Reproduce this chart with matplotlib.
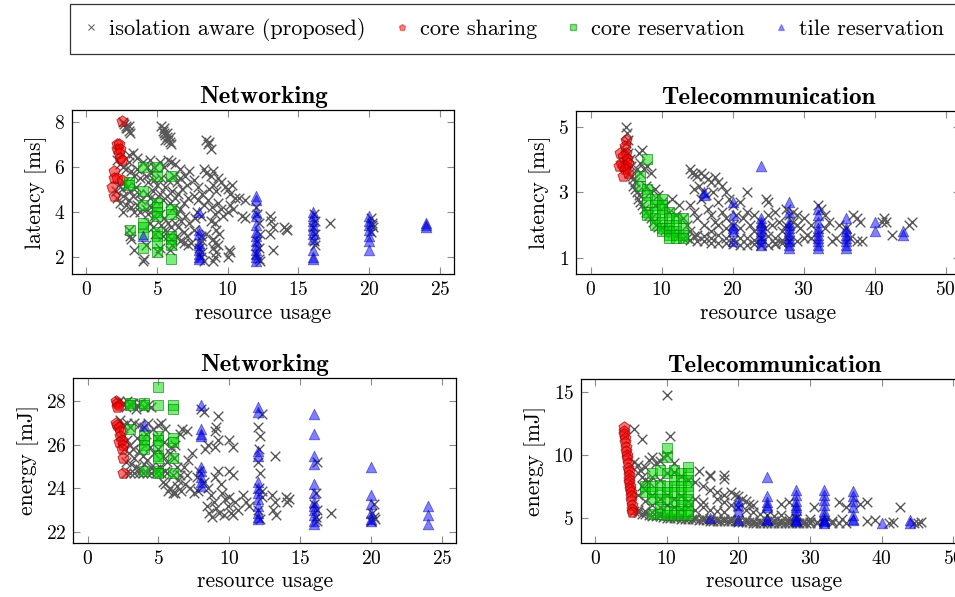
import matplotlib
matplotlib.use("Agg")
import matplotlib.pyplot as plt
from matplotlib.lines import Line2D

plt.rcParams['font.family'] = ['cmr10', 'DejaVu Serif']
plt.rcParams['axes.formatter.use_mathtext'] = True
plt.rcParams['mathtext.fontset'] = 'cm'

# ---- Networking, latency [ms] ----
net_lat_iso = [
    (2.6, 8.0), (2.7, 7.9), (2.8, 7.8), (2.9, 7.7), (3.0, 7.6), (3.1, 7.5), (2.8, 7.7), (3.0, 7.8),
    (5.3, 7.8), (5.4, 7.6), (5.5, 7.5), (5.6, 7.4), (5.7, 7.3), (5.8, 7.2), (5.9, 7.1), (6.0, 7.0),
    (5.5, 7.7), (5.7, 7.5), (5.6, 7.2), (5.9, 7.3), (8.5, 7.2), (8.6, 7.0), (8.8, 6.8), (8.7, 7.1),
    (3.0, 6.5), (3.3, 6.6), (3.6, 6.4), (4.0, 6.2), (4.3, 6.0), (4.5, 6.3), (4.8, 6.0), (5.2, 6.2),
    (5.5, 6.0), (5.8, 6.3), (6.0, 6.2), (6.3, 6.1), (6.6, 5.9), (7.0, 5.6), (7.3, 5.8), (7.6, 5.4),
    (7.9, 5.1), (8.3, 5.9), (8.5, 5.7), (8.8, 5.6), (9.0, 5.8), (9.3, 5.5), (9.5, 5.3), (9.8, 5.1),
    (10.0, 5.0), (10.2, 4.8), (10.5, 4.6), (10.8, 4.6), (11.2, 4.5), (10.3, 5.2), (9.0, 5.2), (8.7, 5.0),
    (9.2, 4.9), (2.2, 6.3), (2.4, 6.1), (2.6, 6.0), (2.8, 5.9), (3.0, 6.2), (3.2, 5.8), (3.4, 5.6),
    (3.6, 5.9), (3.8, 5.5), (2.3, 5.2), (2.5, 5.0), (2.7, 5.3), (2.9, 5.1), (3.1, 4.9), (3.3, 4.7),
    (3.5, 5.1), (3.7, 4.8), (3.9, 4.5), (2.2, 4.6), (2.4, 4.4), (2.6, 4.7), (2.8, 4.3), (3.0, 4.5),
    (3.2, 4.2), (3.4, 4.0), (3.6, 4.3), (3.8, 4.0), (2.6, 4.0), (2.1, 4.9), (4.2, 5.6), (4.4, 5.3),
    (4.6, 5.7), (4.8, 5.4), (5.0, 5.2), (5.3, 5.5), (5.6, 5.1), (5.8, 5.4), (4.3, 4.8), (4.5, 4.6),
    (4.7, 4.9), (4.9, 4.5), (5.2, 4.8), (5.4, 4.5), (5.7, 4.7), (5.9, 4.4), (4.2, 4.1), (4.4, 3.9),
    (4.6, 4.2), (4.8, 3.8), (5.2, 3.9), (5.5, 3.7), (5.8, 3.5), (4.5, 3.5), (4.7, 3.3), (5.3, 3.4),
    (5.6, 3.2), (6.0, 3.3), (4.9, 3.0), (5.4, 2.9), (5.8, 2.9), (6.2, 5.6), (6.4, 5.3), (6.6, 5.5),
    (6.1, 4.9), (6.3, 4.6), (6.5, 4.8), (6.8, 5.0), (7.1, 5.2), (6.2, 4.2), (6.4, 3.9), (6.6, 4.1),
    (6.9, 4.4), (7.2, 4.6), (6.3, 3.5), (6.5, 3.3), (6.7, 3.6), (6.9, 3.1), (7.1, 2.9), (6.4, 2.9),
    (6.6, 2.7), (6.9, 2.6), (7.2, 2.5), (7.4, 2.6), (7.0, 3.8), (7.3, 3.5), (7.6, 3.2), (7.8, 4.0),
    (8.1, 3.8), (8.3, 4.3), (8.6, 4.5), (8.9, 4.2), (9.1, 3.9), (9.3, 4.4), (9.5, 4.1), (9.7, 3.8),
    (8.8, 3.6), (9.1, 3.5), (10.0, 4.0), (10.2, 4.3), (10.4, 4.1), (9.2, 3.2), (9.4, 3.0), (8.5, 3.0),
    (7.6, 4.7), (7.9, 4.5), (8.2, 4.8), (7.7, 3.7), (8.1, 2.9), (8.2, 2.7), (8.0, 2.4), (8.2, 2.2),
    (8.1, 2.0), (8.3, 1.8), (9.0, 2.8), (9.1, 2.6), (9.0, 2.4), (9.2, 2.2), (9.1, 2.0), (9.0, 1.8),
    (9.3, 2.5), (10.0, 2.0), (10.1, 2.3), (10.2, 2.2), (11.0, 3.8), (11.2, 3.7), (12.0, 4.2), (12.1, 3.9),
    (12.2, 3.5), (12.3, 3.0), (12.1, 2.7), (12.2, 2.4), (12.0, 2.1), (12.2, 1.9), (12.3, 1.8), (13.0, 3.8),
    (13.1, 3.6), (13.2, 3.3), (13.0, 3.0), (13.2, 2.3), (14.0, 3.3), (14.2, 3.2), (14.1, 3.25), (16.1, 3.9),
    (16.2, 3.6), (16.0, 3.3), (16.2, 3.0), (16.1, 2.7), (16.2, 2.5), (17.2, 3.5), (20.1, 3.7), (20.2, 3.5),
    (20.3, 3.3), (20.1, 3.1), (20.2, 3.4), (3.0, 3.2), (3.1, 2.9), (3.2, 2.8), (3.4, 2.3), (4.0, 1.8),
    (4.1, 1.9), (4.2, 2.5), (5.1, 2.2), (5.2, 2.4), (5.9, 2.3), (6.1, 2.5), (6.0, 2.8),
]
net_lat_share = [
    (2.5, 8.05), (2.2, 7.0), (2.3, 7.0), (2.2, 6.8), (2.4, 6.8), (2.3, 6.6), (2.4, 6.4), (2.5, 6.3),
    (2.0, 5.8), (2.0, 5.5), (2.2, 5.5), (2.5, 5.4), (1.8, 5.1), (2.0, 4.7),
]
net_lat_core = [
    (3, 5.3), (3, 5.2), (4, 6.0), (4, 4.9), (4, 4.3), (4, 3.5), (4, 3.3), (4, 3.0), (4, 2.4), (3.1, 3.2),
    (5, 6.0), (5, 5.6), (5, 4.4), (5, 4.2), (5, 4.0), (5, 3.8), (5, 3.1), (5, 2.9), (5, 2.6), (5, 2.2),
    (6, 5.6), (6, 4.1), (6, 3.9), (6, 2.9), (6, 2.8), (6, 2.5), (6, 1.9),
]
net_lat_tile = [
    (4, 2.9), (8, 4.0), (8, 3.2), (8, 3.0), (8, 2.6), (8, 2.5), (8, 2.3), (8, 2.1), (8, 2.0), (8, 1.9),
    (12, 4.7), (12, 4.5), (12, 4.0), (12, 3.8), (12, 3.4), (12, 3.1), (12, 2.9), (12, 2.7), (12, 2.5),
    (12, 2.3), (12, 2.1), (12, 2.0), (12, 1.8), (16, 4.0), (16, 3.8), (16, 3.6), (16, 3.4), (16, 3.2),
    (16, 3.0), (16, 2.8), (16, 2.3), (16, 2.0), (16, 1.9), (20, 3.8), (20, 3.6), (20, 3.4), (20, 3.2),
    (20, 2.9), (20, 2.7), (20, 2.3), (24, 3.5), (24, 3.4), (24, 3.3),
]

# ---- Telecommunication, latency [ms] ----
tel_lat_iso = [
    (5.0, 5.0), (5.1, 4.8), (5.2, 4.6), (5.0, 4.5), (4.8, 4.3), (5.3, 4.2), (5.5, 4.0), (5.7, 3.8),
    (5.4, 3.6), (5.8, 3.5), (6.0, 3.4), (6.2, 3.3), (5.9, 3.2), (6.3, 3.1), (6.5, 3.0), (6.8, 2.9),
    (6.7, 2.8), (7.0, 2.7), (7.3, 2.6), (7.5, 2.5), (7.8, 2.4), (8.2, 2.3), (8.5, 2.2), (8.8, 2.1),
    (9.2, 2.0), (9.5, 1.95), (10.0, 1.9), (10.5, 1.85), (11.0, 1.8), (11.5, 1.75), (12.0, 1.7), (12.5, 1.65),
    (13.0, 1.6), (14, 1.55), (15, 1.5), (16, 1.5), (17, 1.45), (18, 1.45), (19, 1.45), (20, 1.42),
    (21, 1.4), (22, 1.4), (23, 1.42), (24, 1.4), (25, 1.4), (26, 1.42), (27, 1.45), (6.8, 4.2),
    (7.3, 4.3), (7.0, 3.9), (7.5, 3.7), (8.0, 3.8), (8.5, 3.6), (7.0, 3.6), (6.5, 3.7), (7.8, 3.2),
    (8.3, 3.0), (9.0, 3.1), (9.5, 2.9), (10.0, 2.7), (10.5, 2.6), (9.0, 2.6), (11.0, 2.4), (12.0, 2.3),
    (13.0, 2.2), (11.5, 2.8), (12.5, 2.6), (14.0, 3.7), (14.3, 3.6), (14.7, 3.55), (15.0, 3.5), (15.5, 3.6),
    (16.0, 3.5), (16.5, 3.4), (17.0, 3.3), (17.5, 3.45), (18.0, 3.3), (18.5, 3.2), (19.0, 3.0), (17.2, 3.0),
    (14.5, 3.1), (15.2, 3.2), (16.2, 2.9), (15.8, 3.0), (22.0, 3.0), (21.0, 2.7), (20.0, 2.6), (19.5, 2.8),
    (18.0, 2.7), (13.5, 2.0), (14, 2.6), (14.5, 2.4), (15, 2.2), (15.5, 2.8), (16, 2.0), (16.5, 2.5),
    (17, 2.3), (17.5, 2.1), (17, 1.8), (18, 2.0), (18.5, 2.4), (19, 1.9), (19, 2.2), (20, 2.0),
    (20.5, 2.3), (21, 1.9), (21.5, 2.2), (22, 2.4), (22.5, 2.0), (23, 1.8), (23, 2.3), (24, 2.1),
    (24.5, 1.9), (25, 2.3), (25.5, 2.0), (26, 2.4), (26.5, 2.1), (27, 1.8), (27.5, 2.0), (28, 2.3),
    (28.5, 2.1), (29, 2.0), (29.5, 1.9), (30, 2.2), (14, 1.8), (15, 1.7), (16, 1.65), (17, 1.6),
    (18, 1.7), (19, 1.6), (20, 1.55), (21, 1.6), (22, 1.6), (23, 1.55), (24, 1.6), (25, 1.65),
    (26, 1.6), (27, 1.55), (28, 1.5), (29, 1.5), (30, 1.6), (13.5, 1.6), (14.5, 1.65), (24.7, 2.8),
    (25.0, 2.7), (27.5, 2.5), (28.5, 2.4), (29.0, 2.3), (30.5, 1.7), (31, 1.6), (32, 2.6), (32.5, 2.5),
    (33, 2.3), (33.5, 2.1), (34, 1.5), (34.5, 1.6), (35, 2.0), (36, 1.9), (36.5, 1.6), (37, 2.3),
    (37.5, 2.2), (37.5, 1.5), (38, 2.1), (38.2, 1.5), (41, 2.1), (41.3, 2.2), (41.6, 2.1), (42.5, 1.7),
    (45.2, 2.1), (44.8, 2.0), (33, 1.9), (31, 2.0), (26, 1.45),
]
tel_lat_share = [
    (5.0, 4.6), (4.9, 4.4), (5.0, 4.2), (4.2, 4.2), (4.6, 4.1), (5.1, 4.0), (4.3, 3.9), (4.5, 3.8),
    (5.0, 3.8), (4.0, 3.8), (5.3, 3.9), (4.8, 3.7), (4.6, 3.5), (5.2, 3.6),
]
tel_lat_core = [
    (7, 3.5), (7, 3.2), (8, 4.0), (8, 3.1), (8, 2.9), (8, 2.7), (8, 2.4), (8, 2.3),
    (9, 2.8), (9, 2.6), (9, 2.4), (9, 2.2), (9, 2.0), (10, 2.8), (10, 2.6), (10, 2.5),
    (10, 2.3), (10, 2.1), (10, 1.9), (10, 1.8), (11, 2.4), (11, 2.2), (11, 2.0), (11, 1.9),
    (11, 1.8), (11, 1.7), (11, 1.6), (12, 2.2), (12, 2.0), (12, 1.8), (12, 1.7), (12, 1.6),
    (13, 2.2), (13, 1.9), (13, 1.7), (13, 1.6),
]
tel_lat_tile = [
    (16, 3.0), (16, 2.9), (20, 2.7), (20, 2.3), (20, 2.0), (20, 1.9), (20, 1.8), (20, 1.5),
    (24, 3.8), (24, 2.2), (24, 2.1), (24, 2.0), (24, 1.9), (24, 1.8), (24, 1.7), (24, 1.6),
    (24, 1.5), (24, 1.4), (28, 2.7), (28, 2.4), (28, 2.1), (28, 2.0), (28, 1.9), (28, 1.8),
    (28, 1.7), (28, 1.6), (28, 1.5), (28, 1.4), (28, 1.3), (32, 2.5), (32, 2.3), (32, 2.1),
    (32, 1.9), (32, 1.8), (32, 1.7), (32, 1.6), (32, 1.5), (32, 1.4), (32, 1.3), (36, 2.2),
    (36, 1.9), (36, 1.8), (36, 1.7), (36, 1.6), (36, 1.5), (36, 1.4), (36, 1.3), (40, 2.1),
    (40, 1.8), (44, 1.8), (44, 1.7),
]

# ---- Networking, energy [mJ] ----
net_en_iso = [
    (2.2, 28.0), (2.5, 27.9), (2.8, 28.0), (3.0, 27.8), (3.2, 27.9), (3.5, 27.8), (3.7, 27.9), (4.0, 27.7),
    (4.3, 27.8), (4.5, 27.7), (2.7, 27.7), (3.4, 27.6), (2.3, 27.1), (2.5, 26.9), (2.8, 27.0), (3.0, 26.8),
    (3.3, 27.0), (3.6, 26.9), (4.0, 26.8), (4.3, 27.0), (4.6, 26.7), (5.0, 26.9), (5.2, 27.0), (5.5, 26.7),
    (6.7, 26.7), (6.5, 26.5), (7.0, 26.6), (2.5, 26.4), (2.8, 26.2), (3.0, 26.0), (3.2, 25.8), (3.5, 26.3),
    (3.8, 26.1), (2.6, 25.8), (2.9, 25.6), (3.3, 25.4), (3.6, 25.7), (3.9, 25.5), (4.2, 25.3), (4.4, 25.9),
    (4.7, 25.6), (5.0, 25.8), (5.3, 25.5), (5.6, 25.2), (5.8, 25.6), (6.1, 25.4), (6.3, 25.0), (3.1, 25.1),
    (3.4, 25.0), (3.7, 24.9), (4.0, 25.1), (4.5, 25.0), (4.8, 24.9), (5.1, 25.0), (5.5, 24.8), (6.0, 24.6),
    (6.4, 24.4), (2.7, 25.2), (4.1, 26.5), (4.9, 26.3), (5.4, 26.1), (5.9, 25.9), (6.2, 26.0), (2.7, 24.7),
    (3.0, 24.7), (3.3, 24.7), (3.6, 24.7), (3.9, 24.7), (4.2, 24.7), (4.5, 24.7), (4.8, 24.7), (5.2, 24.7),
    (5.6, 24.7), (5.5, 24.2), (5.8, 24.0), (6.0, 23.8), (6.3, 24.1), (6.6, 23.9), (6.9, 24.2), (7.2, 24.0),
    (7.5, 23.8), (6.5, 24.6), (6.8, 25.0), (7.1, 25.3), (7.4, 25.6), (7.0, 24.6), (7.7, 24.5), (7.9, 24.8),
    (5.3, 24.3), (6.2, 23.8), (7.8, 23.9), (5.7, 23.9), (8.2, 24.3), (8.5, 24.0), (8.7, 23.7), (8.9, 23.4),
    (9.1, 23.1), (9.3, 22.9), (8.4, 23.2), (8.6, 22.9), (8.8, 22.7), (9.0, 24.5), (9.2, 24.8), (9.4, 24.2),
    (9.5, 23.8), (9.7, 23.5), (9.9, 23.2), (10.1, 22.9), (10.3, 22.8), (9.6, 22.8), (10.0, 23.6), (10.4, 23.4),
    (10.6, 23.0), (8.3, 25.8), (8.5, 26.0), (9.0, 25.9), (9.2, 26.2), (9.0, 26.6), (9.2, 27.3), (9.1, 26.8),
    (10.0, 26.2), (10.3, 25.9), (10.0, 24.8), (10.3, 24.6), (8.0, 27.6), (8.2, 27.5), (11.0, 23.7), (11.2, 23.4),
    (11.4, 23.2), (12.0, 26.8), (12.3, 27.4), (12.2, 26.4), (12.1, 25.8), (12.0, 25.2), (12.2, 24.7), (12.1, 24.0),
    (12.3, 23.6), (12.0, 23.0), (12.2, 22.6), (13.2, 25.5), (13.0, 23.7), (13.2, 23.4), (13.1, 23.0), (13.3, 22.8),
    (14.0, 23.6), (14.2, 23.5), (14.1, 23.4), (12.3, 23.9), (16.2, 25.2), (16.1, 23.8), (16.0, 23.3), (16.2, 23.0),
    (16.1, 22.7), (16.2, 22.5), (17.2, 22.9), (20.2, 23.3), (20.1, 22.9), (20.3, 22.6), (20.0, 22.5), (20.2, 22.7),
]
net_en_share = [
    (2.0, 28.0), (2.1, 27.9), (2.2, 27.8), (2.1, 27.7), (2.0, 27.0), (2.1, 26.9), (2.2, 26.8), (2.3, 26.6),
    (2.3, 26.4), (2.4, 26.2), (2.2, 26.1), (2.5, 26.0), (2.4, 25.8), (2.5, 25.4), (2.5, 24.7),
]
net_en_core = [
    (3, 27.9), (3, 27.8), (4, 27.9), (4, 27.8), (5, 28.6), (5, 27.8), (6, 27.8), (6, 27.6),
    (3, 26.7), (4, 26.4), (4, 26.2), (4, 26.0), (4, 25.8), (4, 24.8), (5, 26.4), (5, 26.2),
    (5, 26.0), (5, 25.5), (5, 25.4), (5, 24.8), (5, 24.7), (6, 26.3), (6, 26.1), (6, 25.4), (6, 24.7),
]
net_en_tile = [
    (4, 26.9), (8, 27.8), (8, 26.7), (8, 26.5), (8, 26.4), (8, 25.0), (8, 24.8), (8, 24.5),
    (8, 24.3), (8, 24.1), (12, 27.7), (12, 27.5), (12, 25.7), (12, 25.5), (12, 24.3), (12, 24.0),
    (12, 23.8), (12, 23.5), (12, 23.2), (12, 22.9), (12, 22.7), (12, 22.6), (16, 27.4), (16, 26.5),
    (16, 25.5), (16, 25.1), (16, 24.2), (16, 23.8), (16, 23.4), (16, 23.2), (16, 23.0), (16, 22.8),
    (16, 22.5), (16, 22.4), (20, 25.0), (20, 23.7), (20, 23.3), (20, 22.9), (20, 22.6), (20, 22.5),
    (24, 23.2), (24, 22.8), (24, 22.4),
]

# ---- Telecommunication, energy [mJ] ----
tel_en_iso = [
    (5.5, 5.5), (6, 5.4), (6.5, 5.3), (7, 5.3), (7.5, 5.2), (8, 5.15), (8.5, 5.1), (9, 5.1),
    (9.5, 5.05), (10, 5.0), (10.5, 5.0), (11, 4.95), (11.5, 4.95), (12, 4.9), (12.5, 4.9), (13, 4.9),
    (13.5, 4.85), (14, 4.85), (14.5, 4.8), (15, 4.8), (15.5, 4.8), (16, 4.75), (16.5, 4.75), (17, 4.75),
    (17.5, 4.7), (18, 4.7), (18.5, 4.7), (19, 4.7), (19.5, 4.7), (20, 4.65), (20.5, 4.65), (21, 4.65),
    (21.5, 4.65), (22, 4.6), (22.5, 4.6), (23, 4.6), (23.5, 4.6), (24, 4.6), (24.5, 4.6), (25, 4.6),
    (25.5, 4.6), (26, 4.6), (26.5, 4.55), (27, 4.55), (27.5, 4.55), (28, 4.55), (28.5, 4.55), (29, 4.55),
    (29.5, 4.55), (30, 4.55), (31, 4.55), (32, 4.55), (33, 4.6), (34, 4.6), (35, 4.6), (6, 5.6),
    (7, 5.5), (8, 5.4), (9, 5.3), (10, 5.2), (11, 5.1), (12, 5.1), (13, 5.0), (14, 5.0),
    (15, 4.95), (16, 4.9), (17, 4.9), (18, 4.85), (19, 4.85), (20, 4.8), (21, 4.8), (22, 4.75),
    (23, 4.75), (24, 4.7), (25, 4.7), (26, 4.7), (27, 4.7), (28, 4.65), (29, 4.65), (30, 4.65),
    (31, 4.65), (32, 4.7), (33, 4.7), (5.5, 12.0), (6.5, 11.2), (10, 14.7), (10.5, 11.5), (5.5, 9.4),
    (6, 9.2), (6.3, 8.8), (7, 9.0), (7.5, 9.6), (8, 9.8), (8.5, 9.3), (9, 9.5), (9.5, 9.8),
    (10, 10.0), (11, 9.3), (6, 8.5), (6.5, 8.2), (7, 8.0), (7.5, 7.8), (8, 8.2), (9, 8.0),
    (10, 8.5), (11, 8.6), (12, 8.3), (13, 8.0), (14, 7.8), (6.5, 7.5), (7, 7.2), (8, 6.8),
    (9, 6.5), (10, 6.8), (11, 6.5), (12, 6.7), (13, 6.3), (14, 6.5), (15, 6.2), (6, 6.8),
    (7, 6.3), (8, 6.0), (9, 5.8), (10, 6.0), (11, 5.8), (12, 5.7), (13, 5.8), (14, 5.6),
    (15, 5.8), (16, 5.6), (17, 5.5), (18, 5.4), (14.5, 8.7), (16, 8.4), (16, 8.3), (18, 8.4),
    (18, 8.1), (15, 7.5), (16, 7.2), (17, 7.0), (18, 6.8), (19, 7.0), (19.5, 6.8), (20, 6.7),
    (20.5, 6.5), (21, 6.3), (21.5, 6.1), (22, 6.0), (17, 6.5), (18, 6.2), (19, 6.0), (20, 5.8),
    (21, 5.6), (22, 5.4), (23, 5.3), (24, 5.2), (25, 5.1), (26, 6.1), (27, 6.2), (26, 5.2),
    (27, 5.0), (28, 5.0), (30.5, 5.8), (30, 4.9), (34, 6.2), (35, 5.8), (34.5, 4.9), (37, 6.1),
    (38, 6.2), (38, 4.7), (39, 4.8), (42.5, 5.8), (41, 4.6), (41.5, 4.65), (45, 4.6), (45.5, 4.65), (44.5, 4.6),
]
tel_en_share = [
    (4.0, 12.2), (4.1, 11.9), (4.1, 11.6), (4.2, 11.3), (4.2, 11.0), (4.3, 10.6), (4.3, 10.3), (4.4, 10.0),
    (4.5, 9.7), (4.6, 9.3), (4.6, 8.9), (4.7, 8.7), (4.7, 8.4), (4.8, 8.1), (4.8, 7.8), (4.9, 7.5),
    (4.9, 7.3), (5.0, 7.0), (5.0, 6.7), (5.0, 6.4), (5.1, 6.0), (5.1, 5.7), (5.2, 5.4),
]
tel_en_core = [
    (7, 7.5), (7, 7.0), (8, 8.5), (8, 7.5), (8, 7.0), (8, 6.5), (8, 5.3), (9, 8.8),
    (9, 7.6), (9, 7.0), (9, 6.5), (9, 5.8), (9, 5.3), (10, 10.5), (10, 9.8), (10, 8.5),
    (10, 7.5), (10, 7.0), (10, 6.5), (10, 5.5), (10, 5.2), (11, 8.8), (11, 8.0), (11, 7.5),
    (11, 7.0), (11, 6.2), (11, 5.5), (11, 5.2), (12, 8.5), (12, 8.0), (12, 7.5), (12, 7.0),
    (12, 6.5), (12, 6.0), (12, 5.5), (12, 5.2), (13, 9.0), (13, 8.5), (13, 8.0), (13, 7.5),
    (13, 7.0), (13, 6.5), (13, 6.0), (13, 5.5), (13, 5.2),
]
tel_en_tile = [
    (16, 5.0), (20, 6.3), (20, 6.0), (20, 5.5), (20, 4.8), (24, 8.2), (24, 6.7), (24, 6.2),
    (24, 6.0), (24, 5.8), (24, 4.9), (24, 4.8), (28, 7.2), (28, 6.8), (28, 6.3), (28, 6.0),
    (28, 5.8), (28, 5.6), (28, 5.2), (28, 4.9), (28, 4.8), (28, 4.7), (32, 7.2), (32, 6.8),
    (32, 6.4), (32, 6.0), (32, 5.5), (32, 5.2), (32, 4.9), (32, 4.8), (32, 4.7), (32, 4.6),
    (36, 7.1), (36, 6.7), (36, 6.3), (36, 5.8), (36, 5.2), (36, 4.9), (36, 4.8), (40, 4.6),
    (44, 4.8), (44, 4.6),
]

labels = ['isolation aware (proposed)', 'core sharing', 'core reservation', 'tile reservation']

iso_style = dict(marker='x', color='#585858', s=48, linewidths=1.0, zorder=2)
share_style = dict(marker='p', facecolor=(1, 0, 0, 0.55), edgecolor=(0.6, 0, 0, 0.7), s=70, linewidths=0.7, zorder=3)
core_style = dict(marker='s', facecolor=(0, 0.85, 0, 0.5), edgecolor=(0, 0.5, 0, 0.6), s=62, linewidths=0.7, zorder=3)
tile_style = dict(marker='^', facecolor=(0, 0, 1, 0.5), edgecolor=(0, 0, 0.6, 0.5), s=58, linewidths=0.6, zorder=4)

fig = plt.figure(figsize=(9.55, 5.97), dpi=100)

panels = [
    ([0.0754, 0.541, 0.400, 0.2747], net_lat_iso, net_lat_share, net_lat_core, net_lat_tile,
     'Networking', 'latency [ms]', (-1.0, 26.0), (1.23, 8.52), [0, 5, 10, 15, 20, 25], [2, 4, 6, 8]),
    ([0.6031, 0.541, 0.402, 0.273], tel_lat_iso, tel_lat_share, tel_lat_core, tel_lat_tile,
     'Telecommunication', 'latency [ms]', (-2.07, 52.0), (0.5, 5.48), [0, 10, 20, 30, 40, 50], [1, 3, 5]),
    ([0.0768, 0.091, 0.4007, 0.2754], net_en_iso, net_en_share, net_en_core, net_en_tile,
     'Networking', 'energy [mJ]', (-1.0, 26.0), (21.53, 29.02), [0, 5, 10, 15, 20, 25], [22, 24, 26, 28]),
    ([0.6084, 0.091, 0.405, 0.274], tel_en_iso, tel_en_share, tel_en_core, tel_en_tile,
     'Telecommunication', 'energy [mJ]', (-1.95, 52.0), (3.0, 16.0), [0, 10, 20, 30, 40, 50], [5, 10, 15]),
]

for pos, iso, share, core, tile, title, ylab, xl, yl, xt, yt in panels:
    ax = fig.add_axes(pos)
    ax.scatter([p[0] for p in iso], [p[1] for p in iso], **iso_style)
    ax.scatter([p[0] for p in share], [p[1] for p in share], **share_style)
    ax.scatter([p[0] for p in core], [p[1] for p in core], **core_style)
    ax.scatter([p[0] for p in tile], [p[1] for p in tile], **tile_style)
    ax.set_xlim(*xl)
    ax.set_ylim(*yl)
    ax.set_xticks(xt)
    ax.set_yticks(yt)
    ax.tick_params(direction='in', top=True, right=True, length=5, width=0.8,
                   color='#8a8a8a', labelsize=14, pad=5)
    for sp in ax.spines.values():
        sp.set_linewidth(0.9)
    ax.set_title(title, fontfamily='cmb10', fontsize=18, pad=5)
    ax.set_ylabel(ylab, fontsize=15.5, labelpad=5)
    ax.set_xlabel('resource usage', fontsize=15.5, labelpad=3)

handles = [
    Line2D([], [], marker='x', color='#585858', ls='none', markersize=4.5, markeredgewidth=0.7),
    Line2D([], [], marker='p', ls='none', markerfacecolor=(1, 0, 0, 0.5),
           markeredgecolor=(0.8, 0, 0, 0.4), markersize=5),
    Line2D([], [], marker='s', ls='none', markerfacecolor=(0, 0.85, 0, 0.5),
           markeredgecolor=(0, 0.5, 0, 0.5), markersize=4.5),
    Line2D([], [], marker='^', ls='none', markerfacecolor=(0, 0, 1, 0.45),
           markeredgecolor=(0, 0, 0.8, 0.3), markersize=4.5),
]
leg = fig.legend(handles, labels, loc='upper left', bbox_to_anchor=(0.073, 0.993), ncol=4,
                 frameon=True, fancybox=False, edgecolor='black', fontsize=16,
                 handlelength=0.7, handletextpad=0.45, columnspacing=1.3,
                 borderpad=0.6, borderaxespad=0)
leg.get_frame().set_linewidth(0.9)

fig.savefig('out.png', dpi=100)
